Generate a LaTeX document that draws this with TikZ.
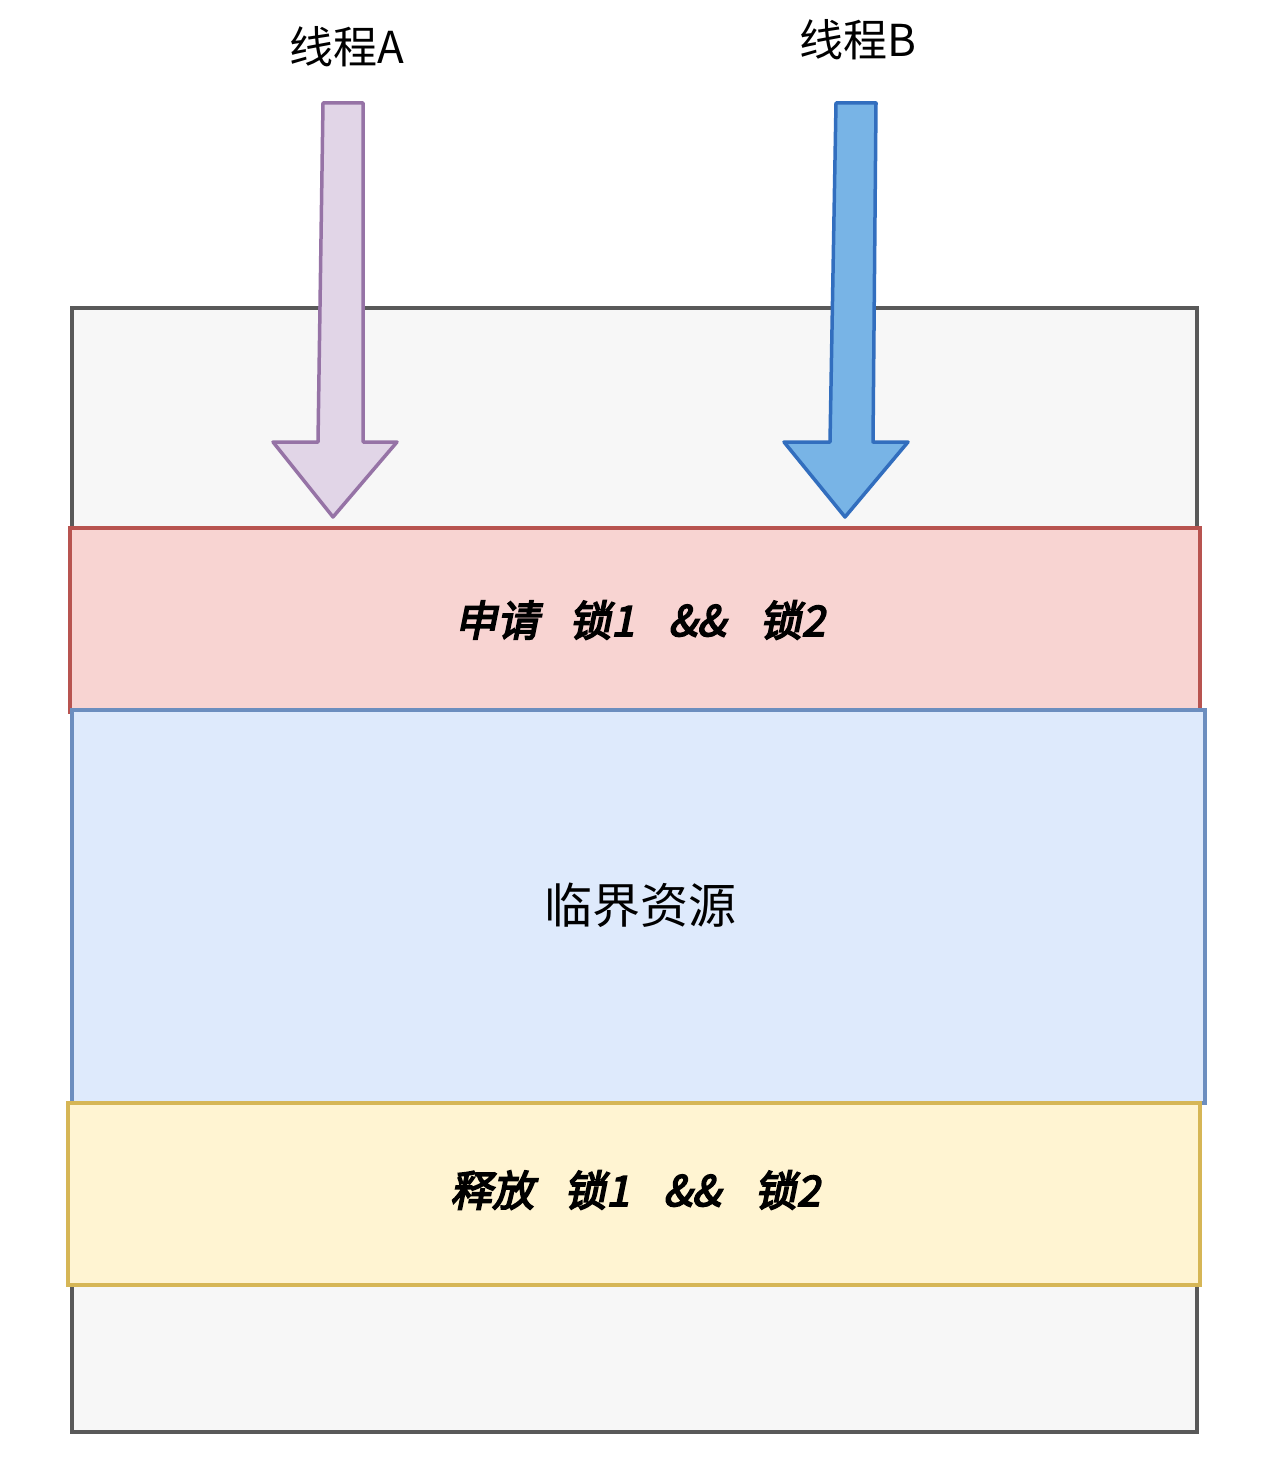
\documentclass[tikz,border=0pt]{standalone}
\usepackage{fontspec}
\newfontfamily\cjk{Noto Sans CJK SC}
\newfontfamily\cjkbi[FakeSlant=0.2,FakeBold=4]{Noto Sans CJK SC}
\tikzset{
 band/.style={line width=3.5pt},
 bigarrow/.style={line width=3.5pt, line join=round},
 lbl/.style={font=\cjk\fontsize{44}{48}\selectfont},
 biglbl/.style={font=\cjk\fontsize{48}{52}\selectfont},
 bandlbl/.style={font=\cjkbi\fontsize{42}{46}\selectfont}
}
\begin{document}
\begin{tikzpicture}[x=1pt,y=-1pt]
\useasboundingbox (0,0) rectangle (1265,1482);
\draw[draw=black!65, fill=black!3, line width=3.5pt] (72,308) rectangle (1197,1432);
\draw[band, draw={rgb,255:red,184;green,84;blue,80}, fill={rgb,255:red,248;green,212;blue,210}] (70,528) rectangle (1200,712);
\draw[band, draw={rgb,255:red,108;green,142;blue,191}, fill={rgb,255:red,222;green,234;blue,252}] (72,710) rectangle (1205,1103);
\draw[band, draw={rgb,255:red,214;green,182;blue,86}, fill={rgb,255:red,255;green,244;blue,210}] (68,1103) rectangle (1200,1285);
\node[bandlbl] (t1) at (640,620) {申请\hspace{30pt}锁1\hspace{34pt}\&\&\hspace{34pt}锁2};
\node[biglbl] (t2) at (640,905) {临界资源};
\node[bandlbl] (t3) at (635,1190) {释放\hspace{30pt}锁1\hspace{34pt}\&\&\hspace{34pt}锁2};
\draw[bigarrow, draw={rgb,255:red,150;green,115;blue,166}, fill={rgb,255:red,225;green,213;blue,231}]
 (323,103) -- (363,103) -- (363,442) -- (397,442) -- (333,517) -- (273,442) -- (318,442) -- cycle;
\draw[bigarrow, draw={rgb,255:red,50;green,110;blue,190}, fill={rgb,255:red,120;green,180;blue,230}]
 (836,103) -- (876,103) -- (873,442) -- (908,442) -- (845,517) -- (784,442) -- (830,442) -- cycle;
\node[lbl] (la) at (347,47) {线程A};
\node[lbl] (lb) at (858,40) {线程B};
\end{tikzpicture}
\end{document}
